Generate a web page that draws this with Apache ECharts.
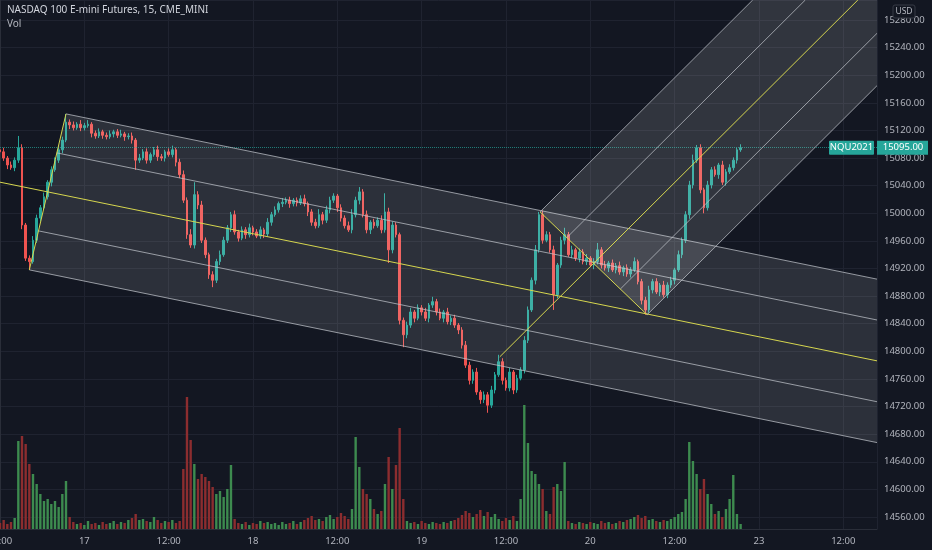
<!DOCTYPE html>
<html>
<head>
<meta charset="utf-8">
<script src="https://cdn.jsdelivr.net/npm/echarts@6/dist/echarts.min.js"></script>
<style>
  html, body { margin: 0; padding: 0; background: #131722; }
  #chart { width: 932px; height: 550px; }
</style>
</head>
<body>
<div id="chart"></div>
<script>
// 30-minute bars, index 0 = Aug 16 12:00
const TICK_LABELS = ['12:00', '17', '12:00', '18', '12:00', '19', '12:00', '20', '12:00', '23', '12:00'];
const BARS_PER_TICK = 23;
const X_MAX = 239.2;

const firstOpen = 15092;
const closes = [
  15089, 15080, 15070, 15066, 15077, 15095, 14983, 14935, 14930, 14961,
  14993, 15008, 15024, 15045, 15063, 15077, 15092, 15106, 15132, 15128,
  15124, 15129, 15124, 15127, 15129, 15116, 15112, 15118, 15113, 15111,
  15115, 15118, 15113, 15115, 15111, 15112, 15106, 15077, 15080, 15089,
  15077, 15085, 15092, 15082, 15080, 15089, 15085, 15092, 15074, 15056,
  15019, 14969, 14954, 15027, 15012, 14961, 14940, 14911, 14903, 14930,
  14940, 14961, 14979, 14998, 14973, 14964, 14976, 14969, 14979, 14973,
  14967, 14976, 14970, 14987, 14998, 15005, 15014, 15016, 15019, 15014,
  15019, 15015, 15021, 15014, 15002, 14987, 14982, 14998, 14990, 15005,
  15019, 15025, 15008, 14993, 14982, 14976, 14998, 15019, 15031, 14998,
  14976, 14987, 14982, 14990, 14976, 15002, 14947, 14983, 14969, 14845,
  14824, 14838, 14857, 14848, 14863, 14857, 14848, 14867, 14872, 14857,
  14848, 14857, 14843, 14848, 14838, 14831, 14809, 14780, 14758, 14770,
  14741, 14730, 14737, 14722, 14744, 14766, 14785, 14758, 14747, 14770,
  14744, 14761, 14773, 14816, 14860, 14903, 14947, 14998, 14961, 14969,
  14947, 14882, 14925, 14961, 14969, 14940, 14947, 14935, 14944, 14930,
  14935, 14925, 14930, 14947, 14925, 14921, 14928, 14918, 14924, 14915,
  14921, 14912, 14918, 14930, 14901, 14874, 14860, 14889, 14901, 14886,
  14896, 14882, 14896, 14903, 14918, 14940, 14961, 14998, 15041, 15077,
  15095, 15034, 15008, 15041, 15063, 15056, 15070, 15045, 15060, 15066,
  15077, 15092, 15095
];
// wick above / below the body, in points
const wickUp = [
  4, 6, 3, 5, 4, 17, 5, 3, 4, 6,
  5, 4, 6, 3, 5, 4, 6, 5, 12, 4,
  5, 3, 6, 4, 6, 3, 4, 5, 3, 4,
  5, 3, 4, 6, 3, 4, 5, 3, 6, 4,
  5, 3, 4, 6, 4, 3, 5, 6, 3, 5,
  6, 4, 8, 18, 5, 6, 4, 3, 5, 4,
  6, 5, 4, 4, 6, 3, 5, 4, 6, 3,
  4, 5, 3, 6, 4, 5, 3, 6, 4, 5,
  3, 4, 5, 6, 3, 4, 5, 8, 4, 6,
  5, 4, 3, 5, 4, 6, 8, 5, 7, 4,
  6, 3, 5, 4, 7, 27, 6, 5, 4, 3,
  4, 5, 6, 3, 5, 4, 6, 3, 7, 4,
  5, 3, 6, 4, 5, 3, 4, 6, 5, 4,
  6, 3, 5, 4, 6, 4, 10, 5, 4, 6,
  3, 5, 4, 6, 5, 4, 7, 4, 6, 5,
  4, 6, 3, 5, 10, 4, 6, 3, 5, 4,
  6, 3, 5, 10, 4, 6, 3, 5, 4, 6,
  3, 5, 4, 6, 3, 4, 5, 6, 4, 5,
  3, 6, 4, 5, 3, 6, 4, 5, 6, 8,
  4, 5, 3, 6, 4, 5, 3, 6, 4, 5,
  4, 3, 5
];
const wickDn = [
  5, 4, 6, 3, 5, 4, 6, 4, 12, 3,
  4, 5, 3, 4, 6, 3, 4, 5, 3, 6,
  4, 3, 5, 4, 3, 6, 4, 3, 5, 4,
  3, 5, 4, 3, 6, 4, 5, 14, 4, 3,
  5, 4, 3, 6, 4, 5, 3, 4, 6, 5,
  4, 6, 4, 5, 6, 4, 5, 6, 10, 4,
  5, 3, 4, 6, 4, 5, 3, 6, 4, 5,
  3, 4, 6, 4, 5, 3, 4, 5, 3, 6,
  4, 5, 3, 4, 6, 5, 4, 3, 6, 4,
  5, 4, 6, 5, 4, 3, 5, 4, 6, 4,
  5, 6, 4, 3, 5, 4, 19, 5, 4, 6,
  18, 5, 4, 6, 3, 5, 4, 6, 4, 5,
  3, 6, 4, 5, 4, 6, 5, 4, 6, 5,
  4, 6, 5, 11, 4, 5, 3, 6, 4, 5,
  6, 4, 3, 5, 4, 3, 6, 4, 5, 3,
  4, 22, 5, 4, 6, 3, 5, 4, 6, 4,
  5, 3, 6, 4, 5, 4, 6, 3, 5, 4,
  6, 4, 5, 3, 4, 6, 7, 4, 5, 3,
  6, 4, 5, 4, 6, 3, 5, 4, 6, 5,
  4, 5, 8, 4, 5, 3, 6, 4, 5, 3,
  4, 5, 3
];
const volumes = [
  600, 900, 500, 700, 1100, 8800, 9300, 8500, 6500, 5500,
  4500, 3500, 2800, 3000, 2500, 2800, 2200, 3500, 4800, 1200,
  700, 500, 600, 400, 800, 500, 600, 400, 700, 500,
  600, 800, 500, 700, 600, 900, 1100, 1500, 900, 1000,
  800, 700, 1200, 900, 600, 800, 700, 900, 600, 800,
  6000, 13200, 8900, 6500, 5000, 5500, 5200, 4800, 4200, 3500,
  3800, 3200, 4000, 6400, 1000, 600, 500, 700, 400, 600,
  500, 800, 600, 700, 500, 600, 400, 700, 500, 600,
  800, 500, 700, 900, 1100, 1300, 900, 1000, 800, 1200,
  1400, 1000, 1200, 1600, 1300, 1000, 2000, 9200, 6200, 4000,
  3500, 3000, 2000, 1500, 1800, 4500, 7200, 4000, 6400, 10100,
  3000, 800, 600, 700, 500, 800, 600, 500, 700, 600,
  500, 700, 600, 800, 900, 1100, 1400, 1800, 1600, 1200,
  1500, 1900, 1300, 1700, 1200, 1500, 1000, 800, 1100, 900,
  1300, 800, 3000, 12400, 8600, 5800, 5500, 4500, 4000, 1800,
  1500, 4200, 4500, 3800, 6700, 800, 600, 500, 700, 600,
  500, 700, 600, 500, 800, 600, 700, 500, 600, 800,
  700, 900, 1000, 1200, 1400, 1100, 1300, 900, 1000, 800,
  700, 900, 800, 1000, 1200, 1500, 1700, 3000, 8700, 6800,
  5500, 4000, 5000, 3500, 2500, 1500, 1800, 1200, 2000, 3000,
  5400, 1500, 500
];
const lastPrice = 15095;

// pitchfork pivots [bar index, price]: handle, then the two prongs
const fork1 = [[-60, 15110], [8, 14918], [18, 15144]];
const fork2 = [[136.3, 14792], [147.3, 15002], [176.5, 14853]];
const forkLevels = [0, 0.25, 0.5, 0.75, 1];

const UP = '#26a69a', DOWN = '#ef5350';
const VOL_UP = '#3d8b4f', VOL_DOWN = '#8c2d2f';
const GRID_LINE = '#1f2330';
const AXIS_TEXT = '#b2b5be';
const FONT = 'Noto Sans';

let candles = closes.map((c, i) => {
    let o = i ? closes[i - 1] : firstOpen;
    return [i, o, c, Math.min(o, c) - wickDn[i], Math.max(o, c) + wickUp[i]];
});
let volume_data = volumes.map((v, i) => ({
    value: [i, v],
    itemStyle: { color: candles[i][2] >= candles[i][1] ? VOL_UP : VOL_DOWN }
}));

function clip_segment(a, b, r) {
    let t0 = 0, t1 = 1;
    let dx = b[0] - a[0], dy = b[1] - a[1];
    let p = [-dx, dx, -dy, dy];
    let q = [a[0] - r.x, r.x + r.width - a[0], a[1] - r.y, r.y + r.height - a[1]];
    for (let k = 0; k < 4; k++) {
        if (p[k] === 0) { if (q[k] < 0) return null; continue; }
        let t = q[k] / p[k];
        if (p[k] < 0) { if (t > t1) return null; if (t > t0) t0 = t; }
        else { if (t < t0) return null; if (t < t1) t1 = t; }
    }
    return [[a[0] + t0 * dx, a[1] + t0 * dy], [a[0] + t1 * dx, a[1] + t1 * dy]];
}

function clip_polygon(pts, r) {
    const planes = [[0, r.x, 1], [0, r.x + r.width, -1], [1, r.y, 1], [1, r.y + r.height, -1]];
    planes.forEach(([d, v, s]) => {
        let out = [];
        for (let i = 0; i < pts.length; i++) {
            let a = pts[i], b = pts[(i + 1) % pts.length];
            let ina = (a[d] - v) * s >= 0, inb = (b[d] - v) * s >= 0;
            if (ina) out.push(a);
            if (ina !== inb) {
                let t = (v - a[d]) / (b[d] - a[d]);
                out.push([a[0] + t * (b[0] - a[0]), a[1] + t * (b[1] - a[1])]);
            }
        }
        pts = out;
    });
    return pts;
}

function fork_series(pivots, fill) {
    return {
        type: 'custom',
        xAxisIndex: 0,
        yAxisIndex: 0,
        silent: true,
        z: 5,
        data: [[pivots[0][0], pivots[0][1]]],
        renderItem: (params, api) => {
            let r = params.coordSys;
            let [p1, p2, p3] = pivots.map(p => api.coord(p));
            let mid = [(p2[0] + p3[0]) / 2, (p2[1] + p3[1]) / 2];
            let dir = [(mid[0] - p1[0]) * 20, (mid[1] - p1[1]) * 20];
            let children = [];
            let area = clip_polygon([p2, p3, [p3[0] + dir[0], p3[1] + dir[1]], [p2[0] + dir[0], p2[1] + dir[1]]], r);
            if (area.length > 2) children.push({ type: 'polygon', shape: { points: area }, style: { fill: fill } });
            let add_line = (a, b, color) => {
                let seg = clip_segment(a, b, r);
                if (seg) children.push({
                    type: 'line',
                    shape: { x1: seg[0][0], y1: seg[0][1], x2: seg[1][0], y2: seg[1][1] },
                    style: { stroke: color, lineWidth: 1 }
                });
            };
            forkLevels.forEach(f => {
                let start = f === 0.5 ? p1 : [p2[0] + f * (p3[0] - p2[0]), p2[1] + f * (p3[1] - p2[1])];
                let base = [p2[0] + f * (p3[0] - p2[0]), p2[1] + f * (p3[1] - p2[1])];
                add_line(start, [base[0] + dir[0], base[1] + dir[1]], f === 0.5 ? '#d6d64f' : 'rgba(190,193,200,0.75)');
            });
            add_line(p2, p3, '#d6d64f');
            return { type: 'group', children: children };
        }
    };
}

let chart = echarts.init(document.getElementById('chart'), null, { renderer: 'canvas' });
chart.setOption({
    backgroundColor: '#131722',
    animation: false,
    textStyle: { fontFamily: FONT },
    grid: [
        { left: 0, right: 55, top: 0, bottom: 33, containLabel: false, outerBoundsMode: 'none' },
        { left: 0, right: 55, top: 0, bottom: 21, containLabel: false, outerBoundsMode: 'none' },
    ],
    xAxis: [
        { type: 'value', gridIndex: 0, min: 0, max: X_MAX, show: false },
        {
            type: 'value', gridIndex: 1, min: 0, max: X_MAX, interval: BARS_PER_TICK,
            axisLine: { show: true, lineStyle: { color: '#2a2e39' } },
            axisTick: { show: false },
            axisLabel: {
                color: AXIS_TEXT, fontSize: 9.5, fontFamily: FONT, margin: 7, showMaxLabel: false,
                formatter: v => {
                    let k = v / BARS_PER_TICK;
                    return Math.abs(k - Math.round(k)) < 1e-6 && TICK_LABELS[Math.round(k)] ? TICK_LABELS[Math.round(k)] : '';
                }
            },
            splitLine: { show: true, lineStyle: { color: GRID_LINE } },
        },
    ],
    yAxis: [
        {
            type: 'value', gridIndex: 0, position: 'right', min: 14560, max: 15309, interval: 40,
            axisLine: { show: false }, axisTick: { show: false },
            axisLabel: {
                color: AXIS_TEXT, fontSize: 9.5, fontFamily: FONT, margin: 7, showMaxLabel: false,
                formatter: v => (v % 40 === 0 ? v.toFixed(2) : '')
            },
            splitLine: { show: true, lineStyle: { color: GRID_LINE } },
        },
        {
            type: 'value', gridIndex: 1, position: 'right', min: 0, max: 52900,
            axisLine: { show: true, lineStyle: { color: '#2a2e39' } },
            axisTick: { show: false }, axisLabel: { show: false }, splitLine: { show: false },
        },
    ],
    series: [
        {
            name: 'Vol', type: 'bar', xAxisIndex: 1, yAxisIndex: 1,
            barWidth: 2.4, z: 1, data: volume_data,
        },
        {
            name: 'NQU2021', type: 'candlestick', xAxisIndex: 0, yAxisIndex: 0,
            barWidth: 2, z: 2, data: candles,
            itemStyle: { color: UP, color0: DOWN, borderColor: UP, borderColor0: DOWN, borderWidth: 1 },
            markLine: {
                silent: true, symbol: 'none', label: { show: false },
                lineStyle: { type: 'dotted', color: 'rgba(38,166,154,0.7)', width: 1 },
                data: [{ yAxis: lastPrice }]
            },
        },
        fork_series(fork1, 'rgba(255,255,255,0.11)'),
        fork_series(fork2, 'rgba(255,255,255,0.13)'),
    ],
});

// title, currency box and last price tags, placed from the axes
let tag_y = chart.convertToPixel({ yAxisIndex: 0 }, lastPrice);
let axis_x = chart.convertToPixel({ xAxisIndex: 0 }, X_MAX);
chart.setOption({
    graphic: [
        { type: 'text', left: 7, top: 5, z: 20, style: { text: 'NASDAQ 100 E-mini Futures, 15, CME_MINI', fill: '#d1d4dc', font: '10px "Noto Sans"' } },
        { type: 'text', left: 7, top: 19, z: 20, style: { text: 'Vol', fill: '#b2b5be', font: '10px "Noto Sans"' } },
        { type: 'rect', z: 20, shape: { x: axis_x + 16, y: 5, width: 22, height: 13, r: 2 }, style: { fill: '#131722', stroke: '#363a45', lineWidth: 1 } },
        { type: 'text', z: 21, x: axis_x + 27, y: 11.5, style: { text: 'USD', fill: AXIS_TEXT, font: '8.5px "Noto Sans"', align: 'center', verticalAlign: 'middle' } },
        { type: 'rect', z: 20, shape: { x: axis_x - 48, y: tag_y - 7, width: 45, height: 14, r: 1 }, style: { fill: UP } },
        { type: 'text', z: 21, x: axis_x - 25.5, y: tag_y, style: { text: 'NQU2021', fill: '#ffffff', font: '9.5px "Noto Sans"', align: 'center', verticalAlign: 'middle' } },
        { type: 'rect', z: 20, shape: { x: axis_x, y: tag_y - 7, width: 51, height: 14 }, style: { fill: UP } },
        { type: 'text', z: 21, x: axis_x + 26, y: tag_y, style: { text: lastPrice.toFixed(2), fill: '#ffffff', font: '9.5px "Noto Sans"', align: 'center', verticalAlign: 'middle' } },
    ]
});
</script>
</body>
</html>
